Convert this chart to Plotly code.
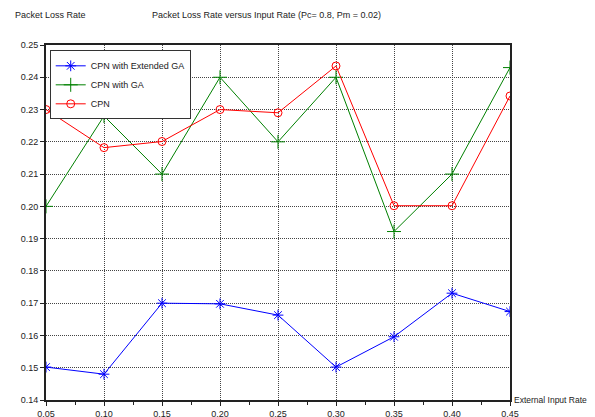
import plotly.graph_objects as go

x_rates = [0.05, 0.10, 0.15, 0.20, 0.25, 0.30, 0.35, 0.40, 0.45]
ext_ga = [0.1502, 0.1480, 0.1700, 0.1698, 0.1663, 0.1502, 0.1596, 0.1731, 0.1674]
cpn_ga = [0.2000, 0.2280, 0.2100, 0.2400, 0.2200, 0.2400, 0.1922, 0.2100, 0.2430]
cpn = [0.2300, 0.2182, 0.2201, 0.2300, 0.2290, 0.2435, 0.2002, 0.2002, 0.2342]
y_ticks = [0.14, 0.15, 0.16, 0.17, 0.18, 0.19, 0.20, 0.21, 0.22, 0.23, 0.24, 0.25]
x_ticks = [0.05, 0.10, 0.15, 0.20, 0.25, 0.30, 0.35, 0.40, 0.45]

font_fam = "Liberation Sans, Arial, sans-serif"

fig = go.Figure()
fig.add_trace(go.Scatter(x=x_rates, y=ext_ga, mode="lines+markers", name="CPN with Extended GA",
                         line=dict(color="#0000ff", width=1),
                         marker=dict(symbol="asterisk-open", size=9, color="#0000ff", line=dict(width=1, color="#0000ff"))))
fig.add_trace(go.Scatter(x=x_rates, y=cpn_ga, mode="lines+markers", name="CPN with GA",
                         line=dict(color="#008000", width=1),
                         marker=dict(symbol="cross-thin-open", size=10, color="#008000", line=dict(width=1, color="#008000"))))
fig.add_trace(go.Scatter(x=x_rates, y=cpn, mode="lines+markers", name="CPN",
                         line=dict(color="#ff0000", width=1),
                         marker=dict(symbol="circle-open", size=8, color="#ff0000", line=dict(width=1, color="#ff0000"))))

# page body has an 8px margin; figure coordinates are offset accordingly
W, H = 587, 409
L, R, T, B = 38, 85, 37, 17
pw = W - L - R
ph = H - T - B

fig.update_layout(
    width=W, height=H,
    margin=dict(l=L, r=R, t=T, b=B, autoexpand=False),
    paper_bgcolor="white", plot_bgcolor="white",
    font=dict(family=font_fam, size=9, color="#222222"),
    showlegend=True,
    legend=dict(x=0.008, y=0.985, xanchor="left", yanchor="top",
                bgcolor="white", bordercolor="#333333", borderwidth=1,
                font=dict(size=9, family=font_fam), itemwidth=30, tracegroupgap=2),
    annotations=[
        dict(text="Packet Loss Rate", xref="paper", yref="paper", x=(5 - L) / pw, y=(H - B - 7) / ph,
             xanchor="left", yanchor="middle", showarrow=False, font=dict(size=9)),
        dict(text="Packet Loss Rate versus Input Rate (Pc= 0.8, Pm = 0.02)", xref="paper", yref="paper",
             x=(142 - L) / pw, y=(H - B - 7) / ph, xanchor="left", yanchor="middle", showarrow=False,
             font=dict(size=9)),
        dict(text="External Input Rate", xref="paper", yref="paper", x=(504 - L) / pw, y=0,
             xanchor="left", yanchor="middle", showarrow=False, font=dict(size=8.5)),
    ],
)

fig.update_xaxes(range=[0.05, 0.45], tickvals=x_ticks, tickformat=".2f", automargin=False,
                 showgrid=True, gridcolor="#444444", griddash="1px,1px", gridwidth=1,
                 showline=True, linecolor="#222222", linewidth=2, mirror=True,
                 ticks="outside", ticklen=4, tickcolor="#222222",
                 minor=dict(dtick=0.025, tick0=0.05, ticks="outside", ticklen=3, tickcolor="#222222", showgrid=False),
                 zeroline=False)
fig.update_yaxes(range=[0.14, 0.25], tickvals=y_ticks, tickformat=".2f", automargin=False,
                 showgrid=True, gridcolor="#444444", griddash="1px,1px", gridwidth=1,
                 showline=True, linecolor="#222222", linewidth=2, mirror=True,
                 ticks="outside", ticklen=4, tickcolor="#222222", zeroline=False)

fig.write_html("out.html")
